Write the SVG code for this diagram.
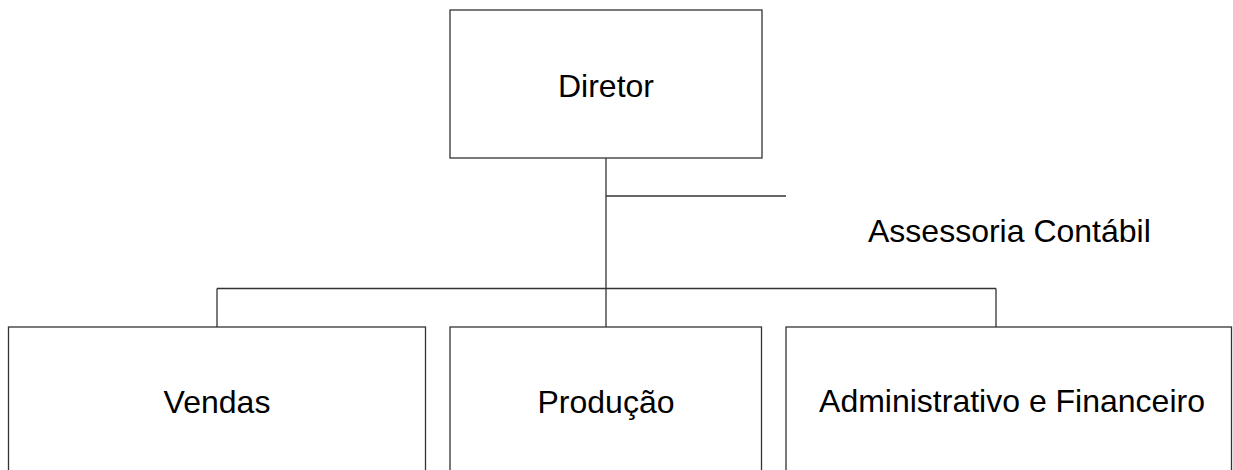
<svg xmlns="http://www.w3.org/2000/svg" width="1233" height="470" viewBox="0 0 1233 470">
<style>
.box{fill:#fff;stroke:#333;stroke-width:1.3}
.ln{stroke:#333;stroke-width:1.3;fill:none}
.t{font-family:"Liberation Sans",Arial,sans-serif;font-size:32px;fill:#000;text-anchor:middle}
</style>
<rect width="1233" height="470" fill="#fff"/>
<g id="connectors">
<line class="ln" x1="606" y1="158" x2="606" y2="327"/>
<line class="ln" x1="606" y1="196" x2="786" y2="196"/>
<line class="ln" x1="217" y1="288.5" x2="996" y2="288.5"/>
<line class="ln" x1="217" y1="288.5" x2="217" y2="327"/>
<line class="ln" x1="996" y1="288.5" x2="996" y2="327"/>
</g>
<g id="diretor">
<rect class="box" x="450" y="10" width="312" height="148"/>
<text class="t" x="606" y="97">Diretor</text>
</g>
<g id="assessoria">
<text class="t" x="868" y="242" style="text-anchor:start">Assessoria Contábil</text>
</g>
<g id="vendas">
<rect class="box" x="8.5" y="327" width="417" height="160"/>
<text class="t" x="217" y="413">Vendas</text>
</g>
<g id="producao">
<rect class="box" x="450" y="327" width="311.5" height="160"/>
<text class="t" x="606" y="413">Produção</text>
</g>
<g id="administrativo">
<rect class="box" x="786" y="327" width="445.5" height="160"/>
<text class="t" x="1012" y="412">Administrativo e Financeiro</text>
</g>
</svg>
